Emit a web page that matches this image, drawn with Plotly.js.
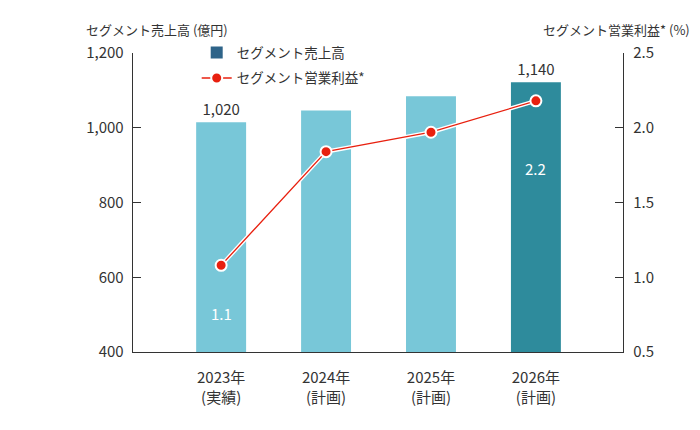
<!DOCTYPE html>
<html>
<head>
<meta charset="utf-8">
<script src="https://cdn.plot.ly/plotly-3.0.1.min.js"></script>
<style>html,body{margin:0;padding:0;background:#fff;}#chart{width:700px;height:430px;}</style>
</head>
<body>
<div id="chart"></div>
<script>
// Data
const categories = ['2023年<br>(実績)', '2024年<br>(計画)', '2025年<br>(計画)', '2026年<br>(計画)'];
const salesValues = [1015, 1046, 1084, 1122];
const salesLabels = ['1,020', '', '', '1,140'];
const profitValues = [1.08, 1.84, 1.97, 2.18];
const profitLabels = ['1.1', '', '', '2.2'];
const barColors = ['#78c7d8', '#78c7d8', '#78c7d8', '#2e8b9c'];

const FONT = '"Noto Sans CJK JP", "Noto Sans", sans-serif';
const idx = categories.map((_, i) => i);

const traces = [
  {
    type: 'bar', x: idx, y: salesValues, width: 0.476,
    marker: {color: barColors},
    text: salesLabels, textposition: 'outside', cliponaxis: false,
    textfont: {family: FONT, size: 15, color: '#333'},
    showlegend: false, hoverinfo: 'skip'
  },
  {
    type: 'bar', x: [null], y: [null], name: 'セグメント売上高',
    marker: {color: '#2e6489'}, showlegend: true, legendgroup: 'a'
  },
  {
    type: 'scatter', mode: 'lines', x: idx, y: profitValues, yaxis: 'y2',
    line: {color: '#ffffff', width: 4}, showlegend: false, hoverinfo: 'skip'
  },
  {
    type: 'scatter', mode: 'lines+markers', x: idx, y: profitValues, yaxis: 'y2',
    name: 'セグメント営業利益*', legendgroup: 'b',
    line: {color: '#e8200f', width: 1.3},
    marker: {color: '#e8200f', size: 11, line: {color: '#ffffff', width: 2}},
    cliponaxis: false
  }
];

const annotations = [
  {text: 'セグメント売上高 (億円)', xref: 'paper', yref: 'paper', x: -0.1, y: 1.08, xanchor: 'left', yanchor: 'middle', showarrow: false, font: {family: FONT, size: 13, color: '#333'}},
  {text: 'セグメント営業利益* (%)', xref: 'paper', yref: 'paper', x: 1.14, y: 1.08, xanchor: 'right', yanchor: 'middle', showarrow: false, font: {family: FONT, size: 13, color: '#333'}}
];
const inLabelY = [504, null, null, 892];
profitLabels.forEach((t, i) => {
  if (t) annotations.push({text: t, x: i, y: inLabelY[i], xref: 'x', yref: 'y', showarrow: false, font: {family: FONT, size: 15, color: '#ffffff'}});
});

const layout = {
  width: 700, height: 430,
  margin: {l: 133, r: 77, t: 53, b: 78},
  paper_bgcolor: '#fff', plot_bgcolor: '#fff',
  font: {family: FONT, size: 15, color: '#333'},
  bargap: 0.5,
  xaxis: {
    range: [-0.84, 3.83], tickvals: idx, ticktext: categories,
    showline: true, linecolor: '#333', linewidth: 1.3, showgrid: false, zeroline: false,
    ticks: '', ticklabelstandoff: 12, tickfont: {family: FONT, size: 15, color: '#333'}
  },
  yaxis: {
    range: [400, 1200], dtick: 200, tickformat: ',d',
    showline: true, linecolor: '#333', linewidth: 1.3, showgrid: false, zeroline: false,
    ticks: 'inside', ticklen: 8, tickcolor: '#333', tickwidth: 1.3, ticklabelstandoff: 5,
    tickfont: {family: FONT, size: 15, color: '#333'}
  },
  yaxis2: {
    range: [0.5, 2.5], dtick: 0.5, tickformat: '.1f', overlaying: 'y', side: 'right',
    showline: true, linecolor: '#333', linewidth: 1.3, showgrid: false, zeroline: false,
    ticks: 'inside', ticklen: 8, tickcolor: '#333', tickwidth: 1.3, ticklabelstandoff: 6,
    tickfont: {family: FONT, size: 15, color: '#333'}
  },
  legend: {
    x: 0.13, y: 1.053, xanchor: 'left', yanchor: 'top',
    bgcolor: 'rgba(0,0,0,0)', font: {family: FONT, size: 13.5, color: '#333'},
    itemwidth: 30, traceorder: 'grouped', tracegroupgap: 5
  },
  annotations: annotations
};

Plotly.newPlot('chart', traces, layout, {displayModeBar: false, staticPlot: true});
</script>
</body>
</html>
